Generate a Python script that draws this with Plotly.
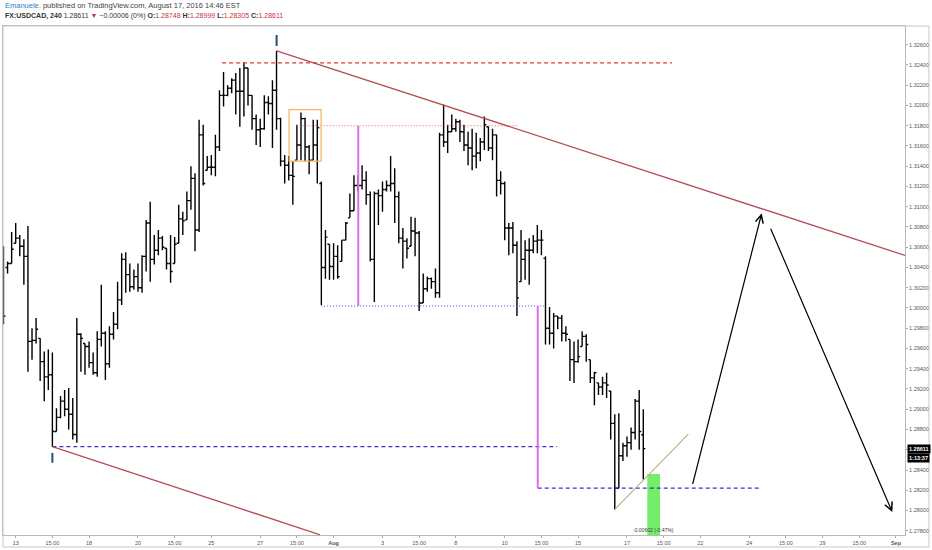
import plotly.graph_objects as go

# USDCAD 4h bars, bar index counted from the first 4h bar of Jul 13 (6 bars per trading day)
bar_index = list(range(-3, 155))

bar_open = [
    1.3030, 1.3040, 1.3044, 1.3064, 1.3069, 1.3061, 1.3051, 1.2967, 1.2968, 1.2970,
    1.2947, 1.2932, 1.2934, 1.2878, 1.2892, 1.2908, 1.2900, 1.2895, 1.2875, 1.2974,
    1.2965, 1.2962, 1.2946, 1.2936, 1.2969, 1.2975, 1.2945, 1.2974, 1.2984, 1.3008,
    1.3048, 1.3033, 1.3021, 1.3031, 1.3020, 1.3051, 1.3084, 1.3048, 1.3057, 1.3069,
    1.3059, 1.3044, 1.3044, 1.3064, 1.3088, 1.3087, 1.3106, 1.3128, 1.3077, 1.3171,
    1.3136, 1.3139, 1.3139, 1.3159, 1.3210, 1.3210, 1.3217, 1.3225, 1.3214, 1.3214,
    1.3237, 1.3210, 1.3187, 1.3176, 1.3177, 1.3203, 1.3202, 1.3215, 1.3187, 1.3145,
    1.3141, 1.3131, 1.3146, 1.3161, 1.3187, 1.3159, 1.3146, 1.3161, 1.3123, 1.3040,
    1.3063, 1.3041, 1.3051, 1.3046, 1.3067, 1.3089, 1.3096, 1.3121, 1.3121, 1.3126,
    1.3112, 1.3048, 1.3113, 1.3111, 1.3117, 1.3121, 1.3123, 1.3110, 1.3069, 1.3066,
    1.3061, 1.3076, 1.3074, 1.3005, 1.3019, 1.3029, 1.3026, 1.3015, 1.3171, 1.3164,
    1.3174, 1.3177, 1.3184, 1.3174, 1.3161, 1.3158, 1.3150, 1.3153, 1.3164, 1.3179,
    1.3158, 1.3171, 1.3126, 1.3123, 1.3079, 1.3079, 1.3062, 1.3026, 1.3048, 1.3057,
    1.3057, 1.3066, 1.3067, 1.3049, 1.2980, 1.2975, 1.2992, 1.2990, 1.2975, 1.2969,
    1.2949, 1.2947, 1.2962, 1.2972, 1.2949, 1.2931, 1.2926, 1.2922, 1.2926, 1.2918,
    1.2886, 1.2822, 1.2854, 1.2864, 1.2867, 1.2877, 1.2908, 1.28748,
]
bar_high = [
    1.3061, 1.3046, 1.3075, 1.3084, 1.3072, 1.3068, 1.3081, 1.2980, 1.2990, 1.2970,
    1.2957, 1.2959, 1.2956, 1.2901, 1.2913, 1.2919, 1.2921, 1.2911, 1.2990, 1.2975,
    1.2965, 1.2967, 1.2956, 1.2977, 1.3023, 1.2977, 1.2982, 1.2996, 1.3026, 1.3054,
    1.3055, 1.3044, 1.3038, 1.3044, 1.3052, 1.3087, 1.3105, 1.3072, 1.3077, 1.3071,
    1.3059, 1.3072, 1.3070, 1.3102, 1.3095, 1.3115, 1.3140, 1.3133, 1.3186, 1.3181,
    1.3150, 1.3151, 1.3171, 1.3215, 1.3233, 1.3220, 1.3227, 1.3232, 1.3237, 1.3243,
    1.3237, 1.3210, 1.3191, 1.3187, 1.3210, 1.3209, 1.3225, 1.3254, 1.3188, 1.3151,
    1.3150, 1.3145, 1.3181, 1.3193, 1.3188, 1.3161, 1.3186, 1.3186, 1.3125, 1.3077,
    1.3063, 1.3064, 1.3062, 1.3067, 1.3085, 1.3113, 1.3131, 1.3131, 1.3141, 1.3135,
    1.3115, 1.3115, 1.3117, 1.3125, 1.3126, 1.3150, 1.3138, 1.3115, 1.3079, 1.3069,
    1.3090, 1.3089, 1.3076, 1.3034, 1.3031, 1.3030, 1.3039, 1.3173, 1.3201, 1.3181,
    1.3191, 1.3187, 1.3186, 1.3181, 1.3174, 1.3177, 1.3173, 1.3168, 1.3189, 1.3179,
    1.3177, 1.3171, 1.3135, 1.3125, 1.3084, 1.3085, 1.3066, 1.3077, 1.3067, 1.3069,
    1.3072, 1.3082, 1.3077, 1.3051, 1.3001, 1.2995, 1.2992, 1.2993, 1.2982, 1.2969,
    1.2967, 1.2969, 1.2977, 1.2974, 1.2949, 1.2937, 1.2926, 1.2932, 1.2936, 1.2918,
    1.2895, 1.2896, 1.2867, 1.2873, 1.2882, 1.2910, 1.2919, 1.28999,
]
bar_low = [
    1.2984, 1.3034, 1.3044, 1.3064, 1.3051, 1.3023, 1.2937, 1.2949, 1.2965, 1.2928,
    1.2908, 1.2919, 1.2863, 1.2878, 1.2891, 1.2893, 1.2880, 1.2870, 1.2867, 1.2937,
    1.2934, 1.2941, 1.2934, 1.2932, 1.2962, 1.2929, 1.2941, 1.2969, 1.2979, 1.3003,
    1.3015, 1.3016, 1.3018, 1.3016, 1.3015, 1.3036, 1.3026, 1.3043, 1.3052, 1.3057,
    1.3038, 1.3025, 1.3044, 1.3064, 1.3072, 1.3087, 1.3097, 1.3056, 1.3075, 1.3121,
    1.3136, 1.3131, 1.3130, 1.3155, 1.3199, 1.3209, 1.3212, 1.3191, 1.3179, 1.3189,
    1.3200, 1.3176, 1.3161, 1.3159, 1.3176, 1.3191, 1.3158, 1.3176, 1.3140, 1.3123,
    1.3126, 1.3102, 1.3146, 1.3146, 1.3145, 1.3132, 1.3146, 1.3123, 1.3003, 1.3029,
    1.3028, 1.3028, 1.3029, 1.3046, 1.3067, 1.3089, 1.3096, 1.3115, 1.3117, 1.3102,
    1.3046, 1.3006, 1.3082, 1.3095, 1.3115, 1.3115, 1.3084, 1.3064, 1.3039, 1.3049,
    1.3061, 1.3051, 1.2997, 1.3005, 1.3016, 1.3019, 1.3010, 1.3010, 1.3159, 1.3153,
    1.3174, 1.3174, 1.3164, 1.3155, 1.3141, 1.3136, 1.3138, 1.3145, 1.3156, 1.3155,
    1.3146, 1.3110, 1.3112, 1.3067, 1.3052, 1.3054, 1.2992, 1.3026, 1.3028, 1.3023,
    1.3054, 1.3054, 1.3052, 1.2964, 1.2964, 1.2960, 1.2979, 1.2967, 1.2967, 1.2928,
    1.2926, 1.2946, 1.2962, 1.2947, 1.2926, 1.2904, 1.2914, 1.2914, 1.2911, 1.2870,
    1.2801, 1.2822, 1.2849, 1.2853, 1.2860, 1.2870, 1.2860, 1.28305,
]
bar_close = [
    1.2992, 1.3044, 1.3058, 1.3069, 1.3061, 1.3051, 1.2967, 1.2968, 1.2979, 1.2947,
    1.2932, 1.2934, 1.2878, 1.2892, 1.2908, 1.2900, 1.2895, 1.2875, 1.2974, 1.2970,
    1.2962, 1.2946, 1.2936, 1.2969, 1.2975, 1.2945, 1.2974, 1.2984, 1.3008, 1.3048,
    1.3033, 1.3021, 1.3031, 1.3020, 1.3051, 1.3084, 1.3048, 1.3057, 1.3069, 1.3060,
    1.3044, 1.3036, 1.3063, 1.3088, 1.3086, 1.3106, 1.3128, 1.3077, 1.3171, 1.3123,
    1.3139, 1.3139, 1.3159, 1.3210, 1.3210, 1.3217, 1.3225, 1.3214, 1.3214, 1.3237,
    1.3210, 1.3187, 1.3176, 1.3177, 1.3203, 1.3202, 1.3215, 1.3187, 1.3145, 1.3141,
    1.3131, 1.3130, 1.3161, 1.3187, 1.3159, 1.3146, 1.3161, 1.3178, 1.3040, 1.3070,
    1.3041, 1.3051, 1.3031, 1.3067, 1.3084, 1.3096, 1.3121, 1.3121, 1.3126, 1.3112,
    1.3048, 1.3113, 1.3111, 1.3117, 1.3121, 1.3123, 1.3110, 1.3069, 1.3066, 1.3059,
    1.3076, 1.3074, 1.3005, 1.3019, 1.3029, 1.3026, 1.3015, 1.3171, 1.3164, 1.3174,
    1.3177, 1.3184, 1.3174, 1.3161, 1.3158, 1.3150, 1.3153, 1.3164, 1.3181, 1.3158,
    1.3171, 1.3126, 1.3123, 1.3079, 1.3079, 1.3062, 1.3010, 1.3048, 1.3057, 1.3057,
    1.3066, 1.3067, 1.3067, 1.2980, 1.2975, 1.2992, 1.2990, 1.2975, 1.2974, 1.2949,
    1.2947, 1.2952, 1.2972, 1.2964, 1.2931, 1.2936, 1.2922, 1.2926, 1.2924, 1.2886,
    1.2822, 1.2854, 1.2864, 1.2867, 1.2877, 1.2908, 1.2878, 1.28611,
]

# time axis in trading days from Jul 13
day_ticks = [0, 1.5, 3, 5, 6.5, 8, 10, 11.5, 13, 15, 16.5, 18, 20, 21.5, 23, 25, 26.5,
             28, 30, 31.5, 33, 34.5, 36]
day_labels = ["13", "15:00", "18", "20", "15:00", "25", "27", "15:00", "<b>Aug</b>", "3",
              "15:00", "8", "10", "15:00", "15", "17", "15:00", "22", "24", "15:00", "29",
              "15:00", "<b>Sep</b>"]

# drawings
swing_high = (10.67, 1.3254)
channel_right = (36.37, 1.3052)
swing_low = (1.5, 1.2863)
channel_low_end = (12.45, 1.2776)
top_level = 1.3242
box_level = 1.3180
mid_level = 1.3002
low_level = 1.2863
target_level = 1.2822
box_x = (11.18, 12.49)
box_y = (1.3145, 1.3196)
trend_start = (24.5, 1.2801)
trend_end = (27.51, 1.28755)
arrow_up = ((27.67, 1.28247), (30.51, 1.30936))
arrow_down = ((30.85, 1.30798), (35.85, 1.27985))
range_x = (25.83, 26.35)
range_y = (1.27758, 1.28360)
last_price = 1.28611

x_days = [k / 6 for k in bar_index]

fig = go.Figure()
fig.add_trace(go.Ohlc(
    x=x_days, open=bar_open, high=bar_high, low=bar_low, close=bar_close,
    increasing=dict(line=dict(color="black", width=1.4)),
    decreasing=dict(line=dict(color="black", width=1.4)),
    tickwidth=0.5, hoverinfo="skip", showlegend=False,
))


def hline(y, x0, x1, color, dash, width=1.2):
    fig.add_shape(type="line", x0=x0, x1=x1, y0=y, y1=y, xref="x", yref="y",
                  line=dict(color=color, dash=dash, width=width))


def vline(x, y0, y1, color, width=2):
    fig.add_shape(type="line", x0=x, x1=x, y0=y0, y1=y1, xref="x", yref="y",
                  line=dict(color=color, width=width))


hline(top_level, 8.44, 26.84, "#e23a3a", "4px,3px", 1.3)
hline(box_level, 11.49, 20.49, "#e0606a", "1px,2px", 1.1)
hline(mid_level, 12.49, 21.65, "#4848e0", "1px,2px", 1.1)
hline(low_level, 1.5, 22.14, "#3434cc", "4px,3px", 1.3)
hline(target_level, 21.35, 30.51, "#3434cc", "4px,3px", 1.3)
vline(14.01, box_level, mid_level, "#e46ae8")
vline(21.35, mid_level, target_level, "#e46ae8")

fig.add_shape(type="line", x0=swing_high[0], y0=swing_high[1], x1=channel_right[0],
              y1=channel_right[1], line=dict(color="#b54c55", width=1.3))
fig.add_shape(type="line", x0=swing_low[0], y0=swing_low[1], x1=channel_low_end[0],
              y1=channel_low_end[1], line=dict(color="#b54c55", width=1.3))
fig.add_shape(type="line", x0=trend_start[0], y0=trend_start[1], x1=trend_end[0],
              y1=trend_end[1], line=dict(color="#b9b07c", width=1.1))
fig.add_shape(type="rect", x0=box_x[0], x1=box_x[1], y0=box_y[0], y1=box_y[1],
              line=dict(color="#f5b35c", width=1.2))
fig.add_shape(type="rect", x0=range_x[0], x1=range_x[1], y0=range_y[0], y1=range_y[1],
              fillcolor="#74ee6a", line=dict(width=0), layer="below")

# high / low marks
vline(swing_high[0], 1.32587, 1.32696, "#2a4d76", 2)
vline(swing_low[0], 1.28471, 1.28569, "#2a4d76", 2)

for start, end in (arrow_up, arrow_down):
    fig.add_annotation(x=end[0], y=end[1], ax=start[0], ay=start[1], axref="x", ayref="y",
                       xref="x", yref="y", text="", showarrow=True, arrowhead=5,
                       arrowsize=1.3, arrowwidth=1.2, arrowcolor="black")

fig.add_annotation(x=26.1, y=1.2781, xref="x", yref="y", showarrow=False,
                   text="-0.00602 (-0.47%)", font=dict(size=5, color="#333"))

# header
fig.add_annotation(
    x=0, y=1.0393, xref="paper", yref="paper", xanchor="left", yanchor="middle",
    showarrow=False, font=dict(size=7.5, color="#444", family="Liberation Sans"),
    text='<span style="color:#1f7fd0">Emanuele.</span> published on TradingView.com, '
         'August 17, 2016 14:46 EST')
red = "#c8323a"
fig.add_annotation(
    x=0, y=1.0196, xref="paper", yref="paper", xanchor="left", yanchor="middle",
    showarrow=False, font=dict(size=7, color="#333", family="Liberation Sans"),
    text=(f'<b>FX:USDCAD, 240</b> 1.28611 <span style="color:{red}">▼</span> '
          f'−0.00006 (0%) <b>O:</b><span style="color:{red}">1.28748</span> '
          f'<b>H:</b><span style="color:{red}">1.28999</span> '
          f'<b>L:</b><span style="color:{red}">1.28305</span> '
          f'<b>C:</b><span style="color:{red}">1.28611</span>'))

# last price labels on the price scale
fig.add_annotation(x=1.002, y=last_price, xref="paper", yref="y", xanchor="left",
                   showarrow=False, text="<b>1.28611</b>", bgcolor="black",
                   font=dict(size=5.5, color="white"), borderpad=1)
fig.add_annotation(x=1.002, y=last_price, yshift=-9, xref="paper", yref="y",
                   xanchor="left", showarrow=False, text="<b>1:13:37</b>",
                   bgcolor="black", font=dict(size=5.5, color="white"), borderpad=1)

# outer frame
fig.add_shape(type="rect", xref="paper", yref="paper", x0=0, x1=1.0266, y0=-0.0236, y1=1,
              line=dict(color="#c8c8c8", width=1))

fig.update_layout(
    width=932, height=550,
    margin=dict(l=3, r=27, t=26, b=15),
    plot_bgcolor="white", paper_bgcolor="white",
    font=dict(family="Liberation Sans", color="#555"),
    xaxis=dict(range=[-0.52, 36.37], tickvals=day_ticks, ticktext=day_labels,
               showgrid=False, zeroline=False, showline=True, mirror=True,
               linecolor="#b8b8b8", ticks="outside", ticklen=2, tickcolor="#aaa",
               tickfont=dict(size=5.5, color="#555"), rangeslider=dict(visible=False)),
    yaxis=dict(range=[1.27758, 1.32785], side="right", tick0=1.278, dtick=0.002,
               tickformat=".5f", showgrid=False, zeroline=False, showline=True,
               mirror=True, linecolor="#b8b8b8", ticks="outside", ticklen=2,
               tickcolor="#aaa", tickfont=dict(size=5.5, color="#555")),
)

# the page body has a default margin; drop it so the figure sits at the window corner
fig.write_html("out.html", config={"displayModeBar": False},
               post_script="document.body.style.margin = '0';")
